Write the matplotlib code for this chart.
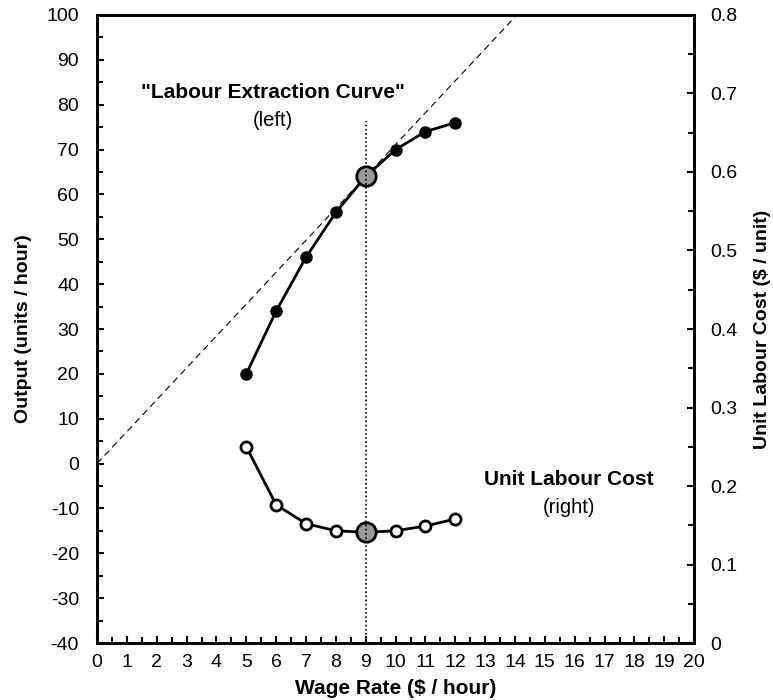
import matplotlib
matplotlib.use("Agg")
import matplotlib.pyplot as plt
from matplotlib.ticker import MultipleLocator

plt.rcParams['font.family'] = ['Liberation Sans', 'DejaVu Sans']
plt.rcParams['axes.unicode_minus'] = False

# data
wage = [5, 6, 7, 8, 9, 10, 11, 12]
output = [20, 34, 46, 56, 64, 70, 74, 76]
unit_cost = [0.250, 0.176, 0.152, 0.143, 0.141, 0.143, 0.149, 0.158]
best_wage = 9
best_output = 64
best_cost = 0.141

fig = plt.figure(figsize=(7.73, 7.0), dpi=100)
ax = fig.add_axes([0.1255, 0.0814, 0.7725, 0.8972])
ax2 = ax.twinx()

ax.set_xlim(0, 20)
ax.set_ylim(-40, 100)
ax2.set_ylim(0, 0.8)

# ray from origin through the optimum point
ax.plot([0, 20], [0, best_output / best_wage * 20], color='black', lw=0.8,
        ls=(0, (6, 4)), zorder=2)

# labour extraction curve (left)
ax.plot(wage, output, color='black', lw=2, marker='o', ms=8,
        mfc='black', mec='black', zorder=3)
ax.plot([best_wage], [best_output], marker='o', ms=14, mfc='#999999',
        mec='black', mew=2, zorder=4)

# unit labour cost (right)
ax2.plot(wage, unit_cost, color='black', lw=2, marker='o', ms=8,
         mfc='white', mec='black', mew=2, zorder=3)
ax2.plot([best_wage], [best_cost], marker='o', ms=14, mfc='#999999',
         mec='black', mew=2, zorder=4)

# vertical dotted line at the optimum wage
ax2.plot([best_wage, best_wage], [0, 0.665], color='black', lw=1.2,
         ls=(0, (1, 1.5)), zorder=6)

ax.text(5.9, 82.8, '"Labour Extraction Curve"', ha='center', va='center',
        fontsize=15, fontweight='bold')
ax.text(5.9, 76.4, '(left)', ha='center', va='center', fontsize=14.5)
ax.text(15.8, -3.6, 'Unit Labour Cost', ha='center', va='center',
        fontsize=15, fontweight='bold')
ax.text(15.8, -9.9, '(right)', ha='center', va='center', fontsize=14.5)

ax.xaxis.set_major_locator(MultipleLocator(1))
ax.xaxis.set_minor_locator(MultipleLocator(0.5))
ax.yaxis.set_major_locator(MultipleLocator(10))
ax.yaxis.set_minor_locator(MultipleLocator(5))
ax2.yaxis.set_major_locator(MultipleLocator(0.1))
ax2.yaxis.set_minor_locator(MultipleLocator(0.05))
ax2.yaxis.set_major_formatter(lambda v, p: '0' if abs(v) < 1e-9 else f'{v:.1f}')

for a in (ax, ax2):
    for s in a.spines.values():
        s.set_linewidth(2)
ax.tick_params(which='major', direction='in', length=5, width=1.5, labelsize=14)
ax.tick_params(which='minor', direction='in', length=4, width=1.5)
ax.tick_params(axis='y', which='major', pad=13)
ax.tick_params(axis='x', which='major', pad=8)
ax.tick_params(axis='y', which='both', right=False)
ax2.tick_params(which='major', direction='in', length=5, width=1.5, labelsize=14, pad=11.5)
ax2.tick_params(which='minor', direction='in', length=4, width=1.5)

ax.set_xlabel('Wage Rate ($ / hour)', fontsize=15, fontweight='bold')
ax.set_ylabel('Output (units / hour)', fontsize=14, fontweight='bold')
ax2.set_ylabel('Unit Labour Cost ($ / unit)', fontsize=14, fontweight='bold')
ax.xaxis.set_label_coords(0.5, -0.058)
ax.yaxis.set_label_coords(-0.109, 0.5)
ax2.yaxis.set_label_coords(1.10, 0.5)

fig.savefig('out.png', dpi=100)
